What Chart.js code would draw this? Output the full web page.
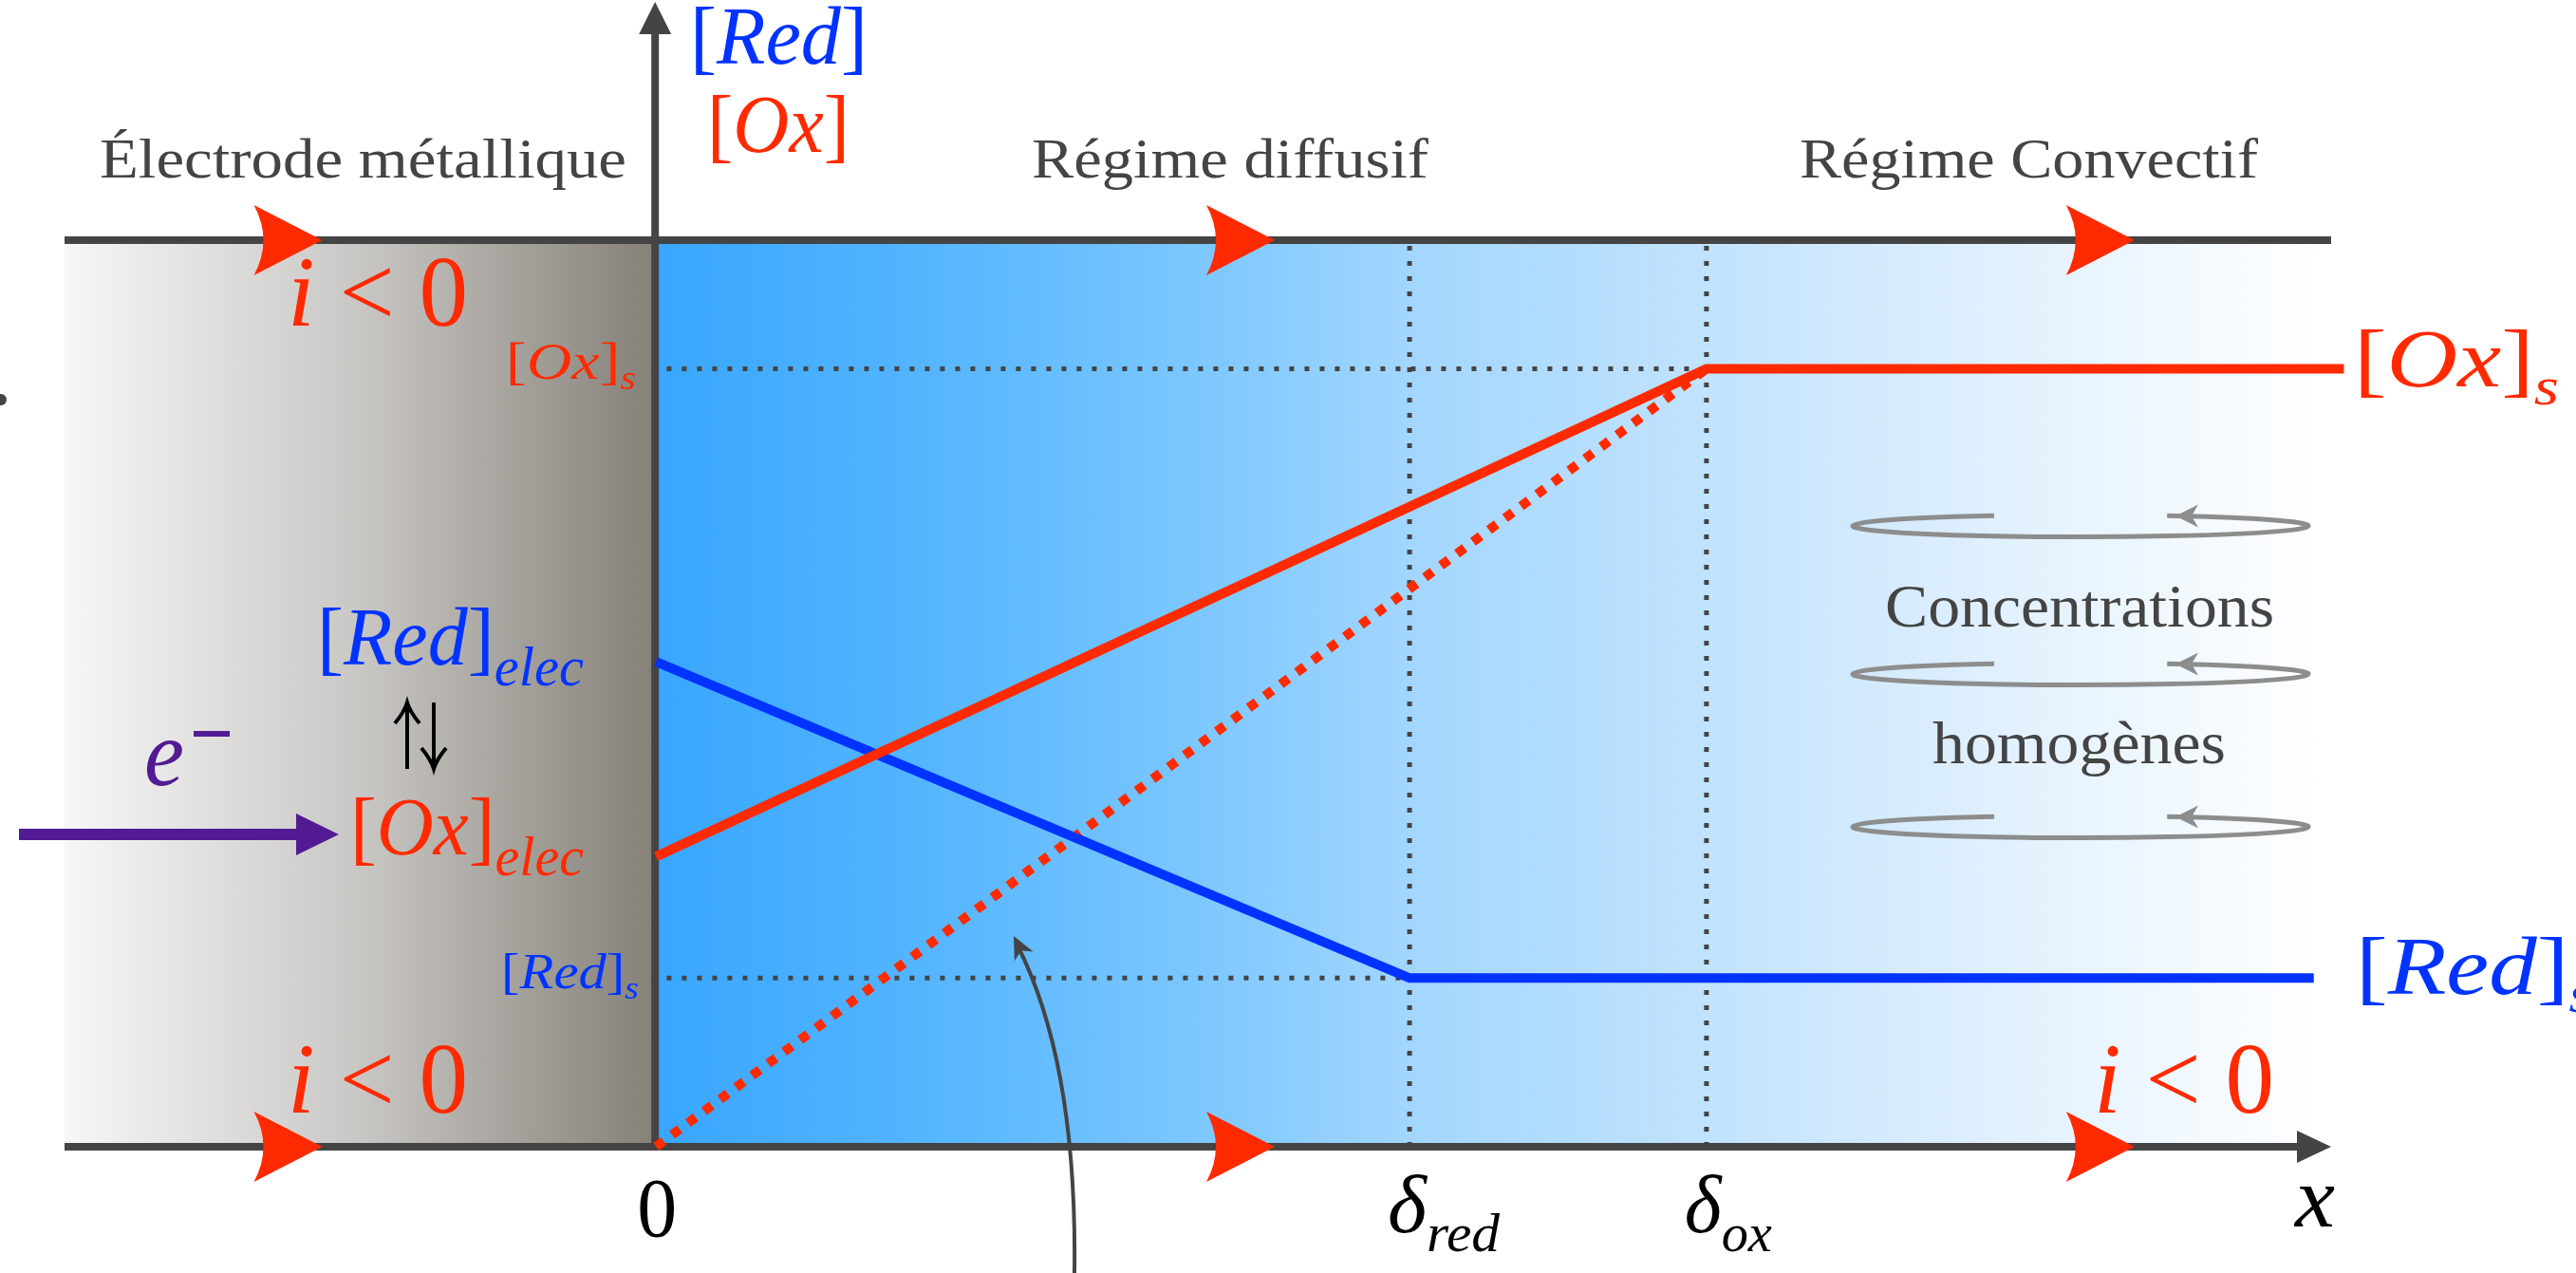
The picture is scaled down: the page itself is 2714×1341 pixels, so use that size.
<!DOCTYPE html>
<html lang="fr">
<head>
<meta charset="utf-8">
<title>Profils de concentration - électrode</title>
<script src="https://cdn.jsdelivr.net/npm/chart.js@4.4.1/dist/chart.umd.min.js"></script>
<style>
  html, body { margin: 0; padding: 0; background: #ffffff; }
  #profil { display: block; }
</style>
</head>
<body>
<canvas id="profil" width="2714" height="1341"></canvas>
<script>
// bornes des axes (x : distance a l'electrode, delta_red = 1 ; y : concentration)
var X_MIN = -0.785;
var X_MAX = 2.223;
var Y_MIN = 0;
var Y_MAX = 10;

// profil de [Ox]
var xOx = [0, 1.394, 2.24];
var concOx = [3.2, 8.58, 8.58];

// profil de [Red]
var xRed = [0, 1, 2.2];
var concRed = [5.35, 1.86, 1.86];

// profil lineaire de [Ox] (courant limite)
var xOxLimite = [0, 1.394];
var concOxLimite = [0, 8.58];

// epaisseurs de couche de diffusion
var deltas = [1, 1.394];
var indicesDelta = ["red", "ox"];

var POLICE = '"Liberation Serif", "DejaVu Serif", serif';
var ROUGE = "#ff2a00";
var BLEU = "#0033ff";
var GRIS = "#444444";
var VIOLET = "#531b93";

function points(xs, ys) {
  var res = [];
  for (var i = 0; i < xs.length; i++) {
    res.push({ x: xs[i], y: ys[i] });
  }
  return res;
}

// lignes pointillees de repere
var guides = [];
guides.push({ data: points([-0.006, deltas[1]], [concOx[1], concOx[1]]) });
guides.push({ data: points([-0.006, deltas[0]], [concRed[1], concRed[1]]) });
for (var d = 0; d < deltas.length; d++) {
  guides.push({ data: points([deltas[d], deltas[d]], [Y_MIN, Y_MAX]) });
}

// ecrit une suite de morceaux [texte, taille, italique, decalageY] ajustee a une largeur
function ecrire(ctx, morceaux, x, y, largeur, couleur, aligne) {
  var total = 0;
  morceaux.forEach(function (m) {
    ctx.font = (m[2] ? "italic " : "") + m[1] + "px " + POLICE;
    total += ctx.measureText(m[0]).width;
  });
  var sx = largeur ? largeur / total : 1;
  var w = total * sx;
  var depart = x;
  if (aligne == "center") depart = x - w / 2;
  if (aligne == "right") depart = x - w;
  ctx.save();
  ctx.fillStyle = couleur;
  ctx.textAlign = "left";
  ctx.textBaseline = "alphabetic";
  ctx.translate(depart, y);
  ctx.scale(sx, 1);
  var cx = 0;
  morceaux.forEach(function (m) {
    ctx.font = (m[2] ? "italic " : "") + m[1] + "px " + POLICE;
    ctx.fillText(m[0], cx, m[3] || 0);
    cx += ctx.measureText(m[0]).width;
  });
  ctx.restore();
}

// fleche rouge du courant (pointe en x, y)
function flecheCourant(ctx, x, y) {
  ctx.save();
  ctx.fillStyle = ROUGE;
  ctx.beginPath();
  ctx.moveTo(x, y);
  ctx.lineTo(x - 72, y - 37);
  ctx.quadraticCurveTo(x - 52, y, x - 72, y + 37);
  ctx.closePath();
  ctx.fill();
  ctx.restore();
}

// boucle de convection
function boucle(ctx, cx, cy) {
  var rx = 240, ry = 11.5;
  var a1 = -Math.acos(100 / rx);
  var a2 = 2 * Math.PI - Math.acos(-91 / rx);
  ctx.save();
  ctx.strokeStyle = "#8d8d8d";
  ctx.lineWidth = 5;
  ctx.beginPath();
  ctx.ellipse(cx, cy, rx, ry, 0, a1 - 0.04, a2, false);
  ctx.stroke();
  var px = cx + 100, py = cy - ry * Math.sin(-a1);
  ctx.fillStyle = "#8d8d8d";
  ctx.beginPath();
  ctx.moveTo(px, py);
  ctx.lineTo(px + 24, py - 12);
  ctx.lineTo(px + 17, py);
  ctx.lineTo(px + 24, py + 12);
  ctx.closePath();
  ctx.fill();
  ctx.restore();
}

// petite fleche ouverte (pour le symbole d'equilibre)
function tige(ctx, x, y1, y2) {
  var sens = y2 < y1 ? 1 : -1;
  ctx.beginPath();
  ctx.moveTo(x, y1);
  ctx.lineTo(x, y2);
  ctx.moveTo(x - 13, y2 + sens * 22);
  ctx.quadraticCurveTo(x - 3, y2 + sens * 10, x, y2);
  ctx.quadraticCurveTo(x + 3, y2 + sens * 10, x + 13, y2 + sens * 22);
  ctx.stroke();
}

var fond = {
  id: "fond",
  beforeDatasetsDraw: function (chart) {
    var ctx = chart.ctx;
    var zone = chart.chartArea;
    var sx = chart.scales.x, sy = chart.scales.y;
    var x0 = sx.getPixelForValue(0) - 1;
    var yb = sy.getPixelForValue(Y_MIN);
    var yh = sy.getPixelForValue(Y_MAX);

    ctx.save();
    var gGris = ctx.createLinearGradient(zone.left, 0, x0, 0);
    gGris.addColorStop(0, "#f7f7f7");
    gGris.addColorStop(0.5, "#c9c7c4");
    gGris.addColorStop(1, "#858179");
    ctx.fillStyle = gGris;
    ctx.fillRect(zone.left, yh, x0 - zone.left, yb - yh);

    var gBleu = ctx.createLinearGradient(x0, 0, zone.right, 0);
    gBleu.addColorStop(0, "rgb(56,166,255)");
    gBleu.addColorStop(0.17, "rgb(86,182,255)");
    gBleu.addColorStop(0.34, "rgb(128,201,255)");
    gBleu.addColorStop(0.45, "rgb(162,214,254)");
    gBleu.addColorStop(0.63, "rgb(194,227,253)");
    gBleu.addColorStop(0.8, "rgb(224,240,254)");
    gBleu.addColorStop(0.93, "rgb(245,250,255)");
    gBleu.addColorStop(1, "rgb(255,255,255)");
    ctx.fillStyle = gBleu;
    ctx.fillRect(x0, yh, zone.right - x0, yb - yh);

    // ligne du haut, axe x, axe y
    ctx.strokeStyle = GRIS;
    ctx.fillStyle = GRIS;
    ctx.lineWidth = 8;
    ctx.beginPath();
    ctx.moveTo(zone.left, yh);
    ctx.lineTo(zone.right, yh);
    ctx.moveTo(zone.left, yb);
    ctx.lineTo(zone.right - 34, yb);
    ctx.moveTo(x0, yb + 4);
    ctx.lineTo(x0, 34);
    ctx.stroke();
    ctx.beginPath();
    ctx.moveTo(zone.right, yb);
    ctx.lineTo(zone.right - 36, yb - 17);
    ctx.lineTo(zone.right - 36, yb + 17);
    ctx.closePath();
    ctx.fill();
    ctx.beginPath();
    ctx.moveTo(x0, 2);
    ctx.lineTo(x0 - 17, 36);
    ctx.lineTo(x0 + 17, 36);
    ctx.closePath();
    ctx.fill();

    // petit point coupe a gauche
    ctx.beginPath();
    ctx.arc(1, 421, 6, 0, 2 * Math.PI);
    ctx.fill();
    ctx.restore();
  }
};

var decor = {
  id: "decor",
  afterDatasetsDraw: function (chart) {
    var ctx = chart.ctx;
    var sx = chart.scales.x, sy = chart.scales.y;
    var yb = sy.getPixelForValue(Y_MIN);
    var yh = sy.getPixelForValue(Y_MAX);
    var x0 = sx.getPixelForValue(0);

    // fleches du courant
    [-0.443, 0.821, 1.962].forEach(function (v) {
      var px = sx.getPixelForValue(v);
      flecheCourant(ctx, px, yh);
      flecheCourant(ctx, px, yb);
    });

    // titres
    ecrire(ctx, [["Électrode métallique", 60]], 105, 187, 555, GRIS);
    ecrire(ctx, [["Régime diffusif", 60]], 1087, 187, 418, GRIS);
    ecrire(ctx, [["Régime Convectif", 60]], 1896, 187, 483, GRIS);

    // axe y
    ecrire(ctx, [["[", 86], ["Red", 86, true], ["]", 86]], 727, 67, 187, BLEU);
    ecrire(ctx, [["[", 86], ["Ox", 86, true], ["]", 86]], 745, 160, 150, ROUGE);

    // i < 0
    var courant = [["i", 106, true], [" < ", 106], ["0", 106]];
    ecrire(ctx, courant, 303, 343, 190, ROUGE);
    ecrire(ctx, courant, 303, 1172, 190, ROUGE);
    ecrire(ctx, courant, 2206, 1172, 190, ROUGE);

    // niveaux a l'axe
    var yOx = sy.getPixelForValue(concOx[1]);
    var yRed = sy.getPixelForValue(concRed[1]);
    ecrire(ctx, [["[", 54], ["Ox", 54, true], ["]", 54], ["s", 35, true, 11]], 533, yOx + 10, 137, ROUGE);
    ecrire(ctx, [["[", 53], ["Red", 53, true], ["]", 53], ["s", 34, true, 11]], 528, yRed + 11, 145, BLEU);

    // niveaux a droite
    ecrire(ctx, [["[", 86], ["Ox", 86, true], ["]", 86], ["s", 56, true, 19]], 2480, yOx + 18, 216, ROUGE);
    ecrire(ctx, [["[", 86], ["Red", 86, true], ["]", 86], ["s", 56, true, 19]], 2482, yRed + 17, 250, BLEU);

    // concentrations a l'electrode
    ecrire(ctx, [["[", 86], ["Red", 86, true], ["]", 86], ["elec", 60, true, 22]], 334, 700, 281, BLEU);
    ecrire(ctx, [["[", 86], ["Ox", 86, true], ["]", 86], ["elec", 60, true, 22]], 369, 900, 246, ROUGE);

    // equilibre
    ctx.save();
    ctx.strokeStyle = "#000000";
    ctx.lineWidth = 4;
    tige(ctx, 429, 810, 740);
    tige(ctx, 457, 740, 810);
    ctx.restore();

    // electrons
    ecrire(ctx, [["e", 100, true]], 152, 827, 42, VIOLET);
    ctx.save();
    ctx.fillStyle = VIOLET;
    ctx.fillRect(204, 770, 38, 6);
    ctx.fillRect(20, 873, 300, 12);
    ctx.beginPath();
    ctx.moveTo(357, 879);
    ctx.lineTo(312, 857);
    ctx.lineTo(312, 901);
    ctx.closePath();
    ctx.fill();
    ctx.restore();

    // graduations
    ecrire(ctx, [["0", 88]], x0 + 1, 1302, 42, "#000000", "center");
    for (var i = 0; i < deltas.length; i++) {
      var px = sx.getPixelForValue(deltas[i]);
      ecrire(ctx, [["δ", 86, true], [indicesDelta[i], 58, true, 20]], px - 23, 1298, i == 0 ? 118 : 92, "#000000");
    }
    ecrire(ctx, [["x", 92, true]], 2418, 1292, 42, "#000000");

    // regime convectif
    boucle(ctx, 2192, 554);
    boucle(ctx, 2192, 710);
    boucle(ctx, 2192, 871);
    ecrire(ctx, [["Concentrations", 64]], 1986, 660, 410, GRIS);
    ecrire(ctx, [["homogènes", 64]], 2036, 804, 309, GRIS);

    // fleche courbe vers le profil limite
    ctx.save();
    ctx.strokeStyle = GRIS;
    ctx.fillStyle = GRIS;
    ctx.lineWidth = 4;
    var p2 = { x: 1068, y: 986 }, c = { x: 1135, y: 1120 };
    ctx.beginPath();
    ctx.moveTo(1132, 1341);
    ctx.quadraticCurveTo(c.x, c.y, p2.x + 4, p2.y + 10);
    ctx.stroke();
    var ang = Math.atan2(p2.y - c.y, p2.x - c.x);
    ctx.translate(p2.x, p2.y);
    ctx.rotate(ang);
    ctx.beginPath();
    ctx.moveTo(0, 0);
    ctx.lineTo(-24, -11);
    ctx.lineTo(-17, 0);
    ctx.lineTo(-24, 11);
    ctx.closePath();
    ctx.fill();
    ctx.restore();
  }
};

var jeux = [
  {
    label: "[Ox]",
    data: points(xOx, concOx),
    borderColor: ROUGE,
    borderWidth: 10,
    borderJoinStyle: "miter",
  },
  {
    label: "[Red]",
    data: points(xRed, concRed),
    borderColor: BLEU,
    borderWidth: 10,
    borderJoinStyle: "miter",
  },
  {
    label: "[Ox] limite",
    data: points(xOxLimite, concOxLimite),
    borderColor: ROUGE,
    borderWidth: 10,
    borderDash: [10, 11],
  },
];
guides.forEach(function (g) {
  jeux.push({
    label: "repere",
    data: g.data,
    borderColor: GRIS,
    borderWidth: 5,
    borderDash: [5, 11],
  });
});
jeux.forEach(function (j) {
  j.showLine = true;
  j.fill = false;
  j.clip = false;
  j.pointRadius = 0;
  j.tension = 0;
  j.borderCapStyle = "butt";
});

var ctxProfil = document.getElementById("profil").getContext("2d");
var graphique = new Chart(ctxProfil, {
  type: "scatter",
  data: { datasets: jeux },
  options: {
    responsive: false,
    animation: false,
    devicePixelRatio: 1,
    layout: {
      padding: { left: 68, right: 258, top: 253, bottom: 133 },
    },
    scales: {
      x: { type: "linear", min: X_MIN, max: X_MAX, display: false },
      y: { type: "linear", min: Y_MIN, max: Y_MAX, display: false },
    },
    plugins: {
      legend: { display: false },
      tooltip: { enabled: false },
    },
  },
  plugins: [fond, decor],
});
</script>
</body>
</html>
